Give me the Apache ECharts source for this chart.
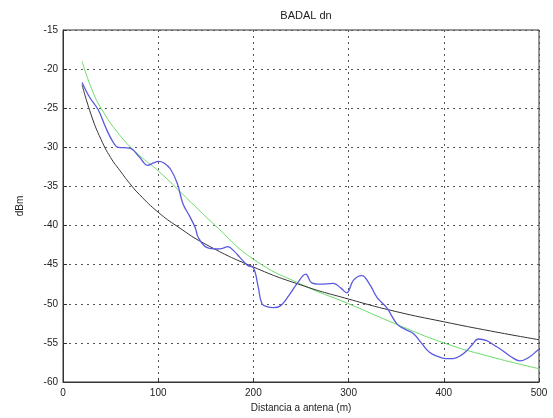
<!DOCTYPE html>
<html><head><meta charset="utf-8">
<script src="https://cdn.jsdelivr.net/npm/echarts@6/dist/echarts.min.js"></script>
<style>html,body{margin:0;padding:0;background:#fff}#c{width:553px;height:418px}</style>
</head><body><div id="c"></div>
<script>
var titleText = "BADAL dn";
var xLabel = "Distancia a antena (m)";
var yLabel = "dBm";
var xTicks = [0, 100, 200, 300, 400, 500];
var yTicks = [-60, -55, -50, -45, -40, -35, -30, -25, -20, -15];

var measDist = [20,28,37,45,52,58,70,80,89,95,100,106,113,120,126,133,139,142,151,162,168,173,180,186,194,200,205,209,215,221,228,237,246,255,261,270,284,292,298,305,314,322,330,340,351,360,368,377,385,393,402,410,418,424,430,436,445,453,462,471,480,490,498,500];
var measVal = [-21.7,-23.6,-25.2,-27.5,-29.2,-30,-30.1,-31.2,-32.3,-32,-31.8,-32,-32.8,-34.6,-37.2,-38.8,-40.3,-41.5,-42.8,-43,-42.9,-42.7,-43.3,-44.1,-45.1,-45.4,-47.8,-50,-50.4,-50.5,-50.3,-49,-47.4,-46.2,-47.3,-47.5,-47.4,-48,-48.6,-47,-46.4,-47.5,-49.2,-50.5,-52.6,-53.3,-53.8,-55.1,-56.2,-56.7,-57,-57,-56.6,-56,-55.2,-54.5,-54.7,-55.3,-56,-56.8,-57.3,-56.8,-56,-55.8];

var fitDist = [20,30,40,50,60,70,80,100,120,150,200,250,300,350,400,450,500];
var fitVal = [-22,-26,-29,-31.3,-33,-34.6,-36,-38.3,-40.1,-42.4,-45.3,-47.6,-49.4,-51,-52.3,-53.5,-54.6];

var modelDist = [20,30,40,60,80,100,130,160,200,250,300,350,400,450,500];
var modelVal = [-19,-22.5,-25,-28.5,-31,-33,-36.5,-40,-44.3,-47.5,-50,-52.6,-55,-56.8,-58.3];

function pairs(xs, ys){ return xs.map(function(x,i){ return [x, ys[i]]; }); }

var chart = echarts.init(document.getElementById('c'));
var font = 'Liberation Sans, Arial, sans-serif';
chart.setOption({
  animation: false,
  title: { text: titleText, left: 301, top: 5, textAlign: 'center',
    textStyle: { fontSize: 11, fontWeight: 'normal', color: '#222', fontFamily: font } },
  grid: { left: 63, right: 14, top: 30, bottom: 36, show: true, borderColor: '#333', borderWidth: 1 },
  xAxis: {
    type: 'value', min: 0, max: 500, interval: 100,
    name: xLabel, nameLocation: 'middle', nameGap: 20,
    nameTextStyle: { fontSize: 10, color: '#222', fontFamily: font },
    axisLine: { show: true, lineStyle: { color: '#333' } },
    axisTick: { show: true, inside: true, length: 4, lineStyle: { color: '#333' } },
    axisLabel: { fontSize: 10, color: '#222', fontFamily: font, margin: 6 },
    splitLine: { show: true, lineStyle: { color: '#555', type: [2, 4], width: 1 } }
  },
  yAxis: {
    type: 'value', min: -60, max: -15, interval: 5,
    name: yLabel, nameLocation: 'middle', nameGap: 38, nameRotate: 90,
    nameTextStyle: { fontSize: 10, color: '#222', fontFamily: font },
    axisLine: { show: true, lineStyle: { color: '#333' } },
    axisTick: { show: true, inside: true, length: 4, lineStyle: { color: '#333' } },
    axisLabel: { fontSize: 10, color: '#222', fontFamily: font, margin: 5 },
    splitLine: { show: true, lineStyle: { color: '#555', type: [2, 4], width: 1 } }
  },
  series: [
    { type: 'line', data: pairs(modelDist, modelVal), smooth: 0.5, showSymbol: false,
      lineStyle: { color: '#66dd66', width: 1 } },
    { type: 'line', data: pairs(fitDist, fitVal), smooth: 0.5, showSymbol: false,
      lineStyle: { color: '#333333', width: 1 } },
    { type: 'line', data: pairs(measDist, measVal), smooth: 0.4, showSymbol: false,
      lineStyle: { color: '#5a5ae0', width: 1.3 } }
  ]
});
</script></body></html>
